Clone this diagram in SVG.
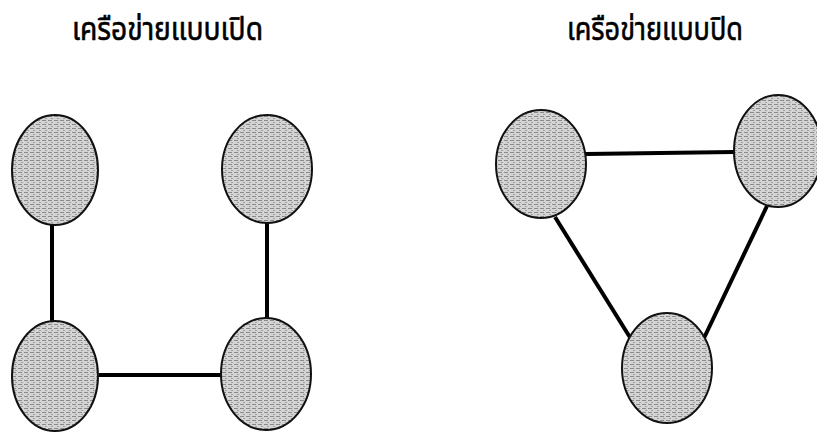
<svg xmlns="http://www.w3.org/2000/svg" width="817" height="433" viewBox="0 0 817 433">
<defs>
<pattern id="tex" width="6" height="4" patternUnits="userSpaceOnUse">
<rect width="6" height="4" fill="#d4d4d4"/>
<rect x="0" y="0" width="4" height="1" fill="#8a8a8a"/>
<rect x="3" y="2" width="2" height="1" fill="#a0a0a0"/>
</pattern>
</defs>
<style>
.node{fill:url(#tex);stroke:#111;stroke-width:2}
.edge{stroke:#000;stroke-width:4;fill:none}
.title{font-family:"Noto Sans Thai","Noto Sans","DejaVu Serif",serif;font-size:32px;fill:#000;stroke:#000;stroke-width:0.6}
</style>
<rect width="817" height="433" fill="#fff"/>
<text class="title" x="72" y="40" textLength="191" lengthAdjust="spacingAndGlyphs">เครือข่ายแบบเปิด</text>
<text class="title" x="567" y="40" textLength="176" lengthAdjust="spacingAndGlyphs">เครือข่ายแบบปิด</text>
<g id="connectors">
<line class="edge" x1="52" y1="224" x2="52" y2="322"/>
<line class="edge" x1="267" y1="222" x2="267" y2="318"/>
<line class="edge" x1="99" y1="375" x2="221" y2="375"/>
<line class="edge" x1="586" y1="154" x2="734" y2="152"/>
<line class="edge" x1="555" y1="217" x2="631" y2="339"/>
<line class="edge" x1="767" y1="206" x2="704" y2="338"/>
</g>
<g id="open-n1"><ellipse class="node" cx="55" cy="170" rx="43" ry="55"/></g>
<g id="open-n2"><ellipse class="node" cx="267" cy="169" rx="45" ry="54"/></g>
<g id="open-n3"><ellipse class="node" cx="55" cy="376" rx="43" ry="55"/></g>
<g id="open-n4"><ellipse class="node" cx="266" cy="374" rx="45" ry="56"/></g>
<g id="closed-n1"><ellipse class="node" cx="541" cy="164" rx="45" ry="54"/></g>
<g id="closed-n2"><ellipse class="node" cx="778" cy="151" rx="44" ry="56"/></g>
<g id="closed-n3"><ellipse class="node" cx="667" cy="368" rx="45" ry="55"/></g>
</svg>
